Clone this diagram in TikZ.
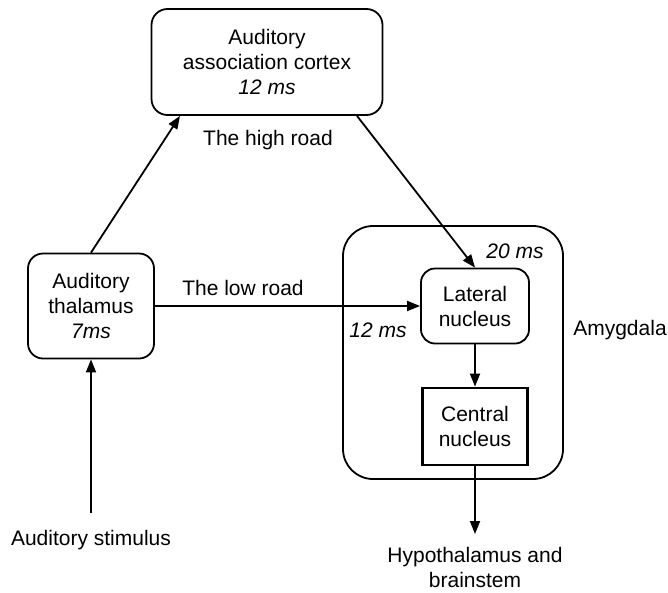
\documentclass[tikz,border=0pt]{standalone}
\usepackage{fontspec}
\setmainfont{Liberation Sans}
\usetikzlibrary{arrows.meta,positioning}

\begin{document}
\begin{tikzpicture}[->,>={Triangle[length=13pt,width=10pt]},x=1pt,y=-1pt,
  line width=1.8pt,font=\fontsize{21}{25}\selectfont,
  main node/.style={draw,rounded corners=#1,align=center,inner sep=0pt},
  square node/.style={draw,line width=2.8pt,align=center,inner sep=0pt},
  tag node/.style={align=center,inner sep=0pt}]

  \useasboundingbox (0,0) rectangle (668,592);

  % boxes
  \node[main node=30pt,minimum width=220pt,minimum height=253pt] (amyg) at (453,352.5) {};
  \node[main node=16pt,minimum width=231pt,minimum height=106pt] (cortex) at (267,62)
    {Auditory\\association cortex\\\textit{12 ms}};
  \node[main node=15pt,minimum width=126pt,minimum height=105pt] (thal) at (91,306)
    {Auditory\\thalamus\\\textit{7ms}};
  \node[main node=14pt,minimum width=108pt,minimum height=75pt] (lateral) at (475,306)
    {Lateral\\nucleus};
  \node[square node,minimum width=105pt,minimum height=77pt] (central) at (475,426.5)
    {Central\\nucleus};

  % free texts
  \node[tag node,anchor=north,inner ysep=16pt] (stim) at (91,513) {Auditory stimulus};
  \node[tag node,anchor=north,inner ysep=12pt] (hypo) at (475,534) {Hypothalamus and\\brainstem};
  \node[tag node] (high) at (268,140) {The high road};
  \node[tag node] (low) at (243,288) {The low road};
  \node[tag node] (t20) at (515,251) {\textit{20 ms}};
  \node[tag node] (t12) at (378,330) {\textit{12 ms}};
  \node[tag node] (amyglabel) at (620,330) {Amygdala};

  \path
  (thal.north) edge ([xshift=-87pt]cortex.south)
  ([xshift=90pt]cortex.south) edge (lateral.north)
  (thal) edge (lateral)
  (lateral) edge (central)
  (central) edge (hypo)
  (stim) edge (thal);
\end{tikzpicture}
\end{document}
